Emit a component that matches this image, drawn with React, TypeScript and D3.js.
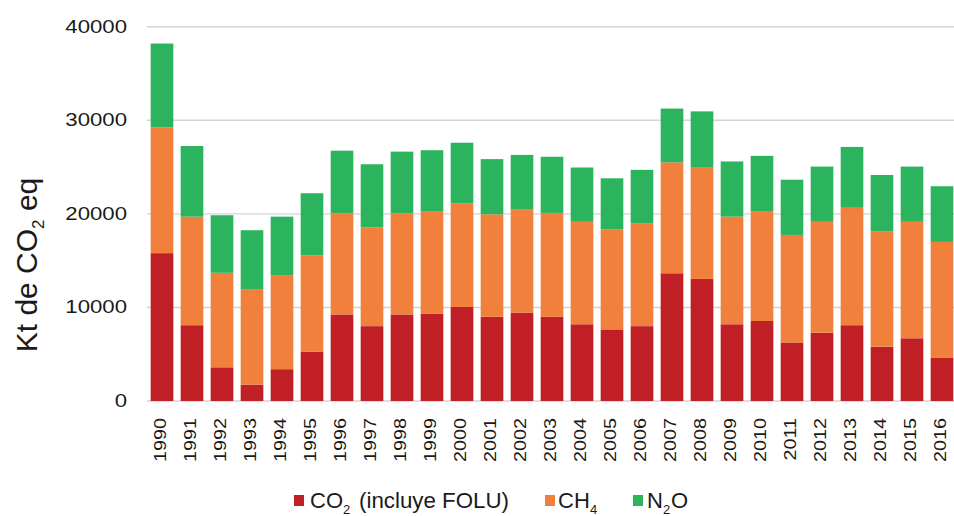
import React from 'react';
import * as d3 from 'd3';

const years = ['1990', '1991', '1992', '1993', '1994', '1995', '1996', '1997', '1998', '1999', '2000', '2001', '2002', '2003', '2004', '2005', '2006', '2007', '2008', '2009', '2010', '2011', '2012', '2013', '2014', '2015', '2016'];
const co2 = [15800, 8100, 3600, 1750, 3400, 5250, 9250, 8000, 9250, 9350, 10050, 9000, 9450, 9000, 8200, 7650, 8000, 13650, 13050, 8200, 8550, 6250, 7300, 8100, 5800, 6700, 4650];
const ch4 = [13450, 11600, 10100, 10150, 10050, 10300, 10800, 10550, 10800, 10950, 11050, 10950, 11000, 11100, 10950, 10700, 11000, 11850, 11950, 11500, 11750, 11500, 11850, 12550, 12350, 12450, 12350];
const n2o = [8950, 7550, 6150, 6350, 6250, 6650, 6700, 6750, 6600, 6500, 6500, 5900, 5850, 6000, 5800, 5450, 5700, 5750, 5950, 5900, 5900, 5900, 5900, 6500, 6000, 5900, 5950];
const yTicks = [0, 10000, 20000, 30000, 40000];
const seriesKeys = ['co2', 'ch4', 'n2o'];
const colors = { co2: '#c11f26', ch4: '#f0803b', n2o: '#2bb35d' };

const W = 954;
const H = 516;
const font = '"Liberation Sans", Arial, sans-serif';

export default function App() {
  const rows = years.map((y, i) => ({ year: y, co2: co2[i], ch4: ch4[i], n2o: n2o[i] }));
  const stacked = d3.stack().keys(seriesKeys)(rows as any);

  const x = d3.scaleBand().domain(years).range([147, 957]).paddingInner(0.245).paddingOuter(0.1225);
  const y = d3.scaleLinear().domain([0, 40000]).range([401, 26.7]);

  return (
    <svg width={W} height={H} style={{ position: 'absolute', left: 0, top: 0, background: '#fff' }} fontFamily={font}>
      {/* grid */}
      {yTicks.map(t => (
        <line key={t} x1={147} x2={W} y1={y(t)} y2={y(t)} stroke="#d4d4d4" strokeWidth={1.4} />
      ))}
      {/* y tick labels */}
      {yTicks.map(t => (
        <text key={'l' + t} transform={`translate(127,${y(t) + 6}) scale(1.2,1)`} textAnchor="end" fontSize={18.5} fill="#1a1a1a">
          {t}
        </text>
      ))}
      {/* bars */}
      {stacked.map(layer => (
        <g key={layer.key} fill={(colors as any)[layer.key]}>
          {layer.map((d: any, i: number) => (
            <rect key={i} x={x(years[i])} width={x.bandwidth()} y={y(d[1])} height={y(d[0]) - y(d[1])} />
          ))}
        </g>
      ))}
      {/* x labels */}
      {years.map(yr => (
        <text key={'x' + yr} transform={`translate(${(x(yr) as number) + x.bandwidth() / 2 + 4},418) rotate(-90) scale(1.2,1)`} textAnchor="end" fontSize={16.5} fill="#1a1a1a">
          {yr}
        </text>
      ))}
      {/* y title */}
      <text transform="translate(37,265) rotate(-90)" textAnchor="middle" fontSize={30} fill="#1a1a1a">
        <tspan>Kt de CO</tspan>
        <tspan fontSize={17} dy={7}>2</tspan>
        <tspan dy={-7}> eq</tspan>
      </text>
      {/* legend */}
      <g fontSize={22} fill="#1a1a1a">
        <rect x={294} y={495} width={10} height={11} fill={colors.co2} />
        <text x={310} y={508}>CO</text>
        <text x={343} y={514} fontSize={13}>2</text>
        <text x={359} y={508} textLength={150} lengthAdjust="spacingAndGlyphs">(incluye FOLU)</text>
        <rect x={545} y={495} width={10} height={11} fill={colors.ch4} />
        <text x={558} y={508}>CH</text>
        <text x={590} y={514} fontSize={13}>4</text>
        <rect x={633} y={495} width={10} height={11} fill={colors.n2o} />
        <text x={647} y={508}>N</text>
        <text x={663} y={514} fontSize={13}>2</text>
        <text x={671} y={508}>O</text>
      </g>
    </svg>
  );
}
